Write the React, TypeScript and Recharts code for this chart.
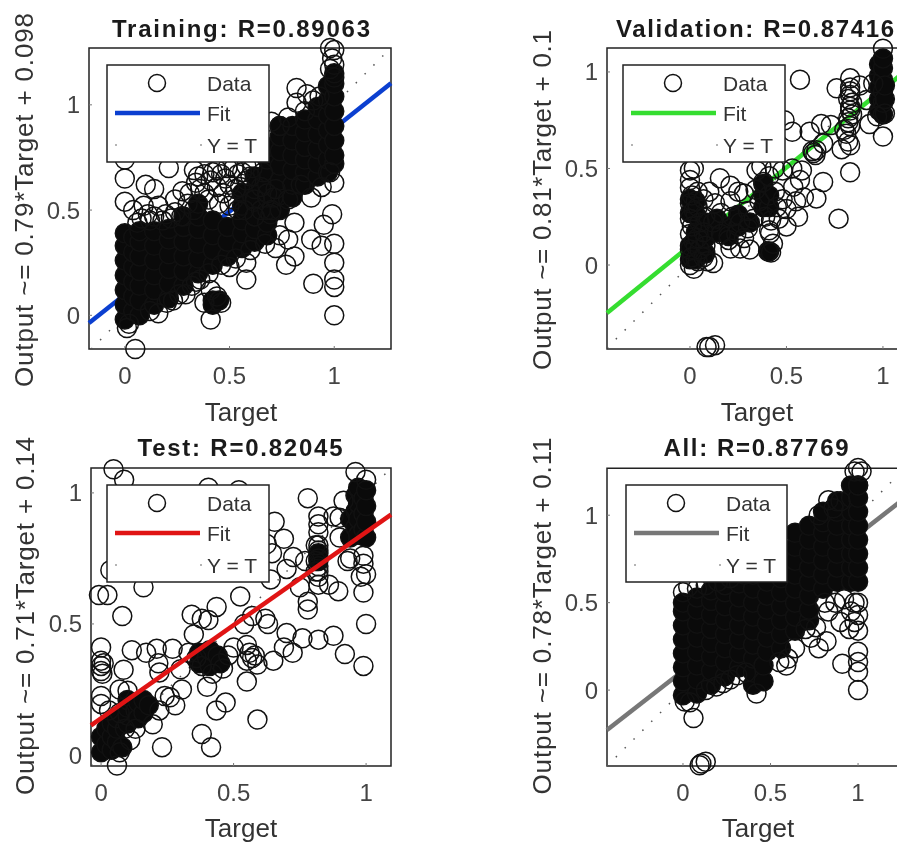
import { ReferenceArea, Scatter, ScatterChart, XAxis, YAxis } from 'recharts'

type Pt = [number, number]
type Col = [number, number[]]

const ticks = [0, 0.5, 1]

// fit lines, from the equations in the y labels
const trainFit: Pt[] = [[-0.171, -0.037], [1.271, 1.102]]
const valFit: Pt[] = [[-0.43, -0.248], [1.135, 1.019]]
const testFit: Pt[] = [[-0.038, 0.113], [1.094, 0.917]]
const allFit: Pt[] = [[-0.434, -0.228], [1.291, 1.117]]

// columns where the circles overlap into solid black: [target, outputs]
const trainCore: Col[] = [
  [0, [-0.02, 0.05, 0.12, 0.19, 0.26, 0.33, 0.39]],
  [0.04, [0.02, 0.09, 0.16, 0.23, 0.3, 0.37]],
  [0.07, [0, 0.07, 0.14, 0.21, 0.28, 0.35, 0.4]],
  [0.14, [0.05, 0.12, 0.19, 0.26, 0.33, 0.4]],
  [0.21, [0.08, 0.15, 0.22, 0.29, 0.36, 0.41]],
  [0.28, [0.14, 0.21, 0.28, 0.35, 0.42, 0.47]],
  [0.35, [0.2, 0.27, 0.34, 0.41, 0.47, 0.53]],
  [0.42, [0.24, 0.31, 0.38, 0.45, 0.07, 0.05]],
  [0.45, [0.07]],
  [0.49, [0.28, 0.35, 0.42]],
  [0.56, [0.32, 0.39, 0.45, 0.52, 0.58]],
  [0.62, [0.35, 0.41, 0.47, 0.54, 0.6, 0.66]],
  [0.68, [0.38, 0.44, 0.5, 0.56, 0.62, 0.68, 0.74, 0.8]],
  [0.74, [0.5, 0.57, 0.64, 0.71, 0.78, 0.85, 0.9]],
  [0.8, [0.56, 0.62, 0.69, 0.76, 0.83, 0.9]],
  [0.86, [0.62, 0.68, 0.74, 0.8, 0.87, 0.93]],
  [0.92, [0.66, 0.72, 0.79, 0.86, 0.93, 0.99]],
  [0.97, [0.68, 0.74, 0.81, 0.88, 0.95, 1.02, 1.09]],
  [1, [0.72, 0.76, 0.83, 0.9, 0.97, 1.04, 1.1, 1.15]],
]

const trainOpen: Pt[] = [
  [0.05, -0.16], [0.01, -0.06], [0.02, -0.04], [0, 0.65], [0, 0.54], [0, 0.74], [0.1, 0.62], [0.14, 0.6], [0.04, 0.5],
  [0.09, 0.52], [0.21, 0.7], [0.24, 0.55], [0.275, 0.59], [0.195, 0.48], [0.14, 0.47], [0.33, 0.69], [0.38, 0.67],
  [0.44, 0.69], [0.52, 0.7], [0.58, 0.71], [0.36, 0.6], [0.44, 0.61], [0.55, 0.61], [0.65, 0.61], [0.71, 0.56],
  [0.695, 0.48], [0.65, 0.5], [0.81, 0.44], [0.74, 0.38], [0.78, 0.36], [0.72, 0.32], [0.81, 0.28], [0.77, 0.24],
  [0.58, 0.25], [0.58, 0.17], [0.5, 0.23], [0.36, 0.17], [0.41, 0.12], [0.41, -0.02], [0.89, 0.36], [0.94, 0.33],
  [0.95, 0.43], [0.99, 0.48], [1, 0.34], [1, 0.25], [1, 0.17], [0.9, 0.15], [1, 0.135], [1, 0], [0.89, 0.56],
  [0.94, 0.61], [1, 0.63], [0.98, 0.68], [0.82, 1.08], [0.87, 1.05], [0.9, 1.02], [0.82, 1.01], [0.93, 1.04],
  [0.98, 1.27], [1, 1.26], [0.98, 1.17], [1, 1.13], [0.99, 1.22], [1, 1.19], [0.38, 0.06], [0.46, 0.06], [0.44, 0.09],
  [0.4, 0.55], [0.47, 0.58], [0.52, 0.55], [0.57, 0.5], [0.62, 0.55], [0.68, 0.58], [0.6, 0.66], [0.66, 0.68],
  [0.72, 0.6], [0.78, 0.55], [0.84, 0.62], [0.7, 0.5], [0.62, 0.47], [0.3, 0.53], [0.34, 0.63], [0.48, 0.65],
  [0.54, 0.67], [0.74, 0.9], [0.78, 0.94], [0.86, 0.97], [0.7, 0.92], [0.2, 0.06], [0.12, 0.02], [0.26, 0.1],
  [0.32, 0.14], [0.08, 0.46], [0.18, 0.45], [0.27, 0.47],
  [0.35, 0.66], [0.41, 0.64], [0.46, 0.67], [0.5, 0.62], [0.53, 0.6], [0.58, 0.64], [0.61, 0.7], [0.38, 0.58],
  [0.45, 0.53], [0.5, 0.52], [0.54, 0.5], [0.42, 0.68], [0.49, 0.7], [0.56, 0.68], [0.31, 0.58], [0.33, 0.5],
  [0.24, 0.49], [0.06, 0.44], [0.12, 0.45], [0.22, 0.46], [0.16, 0.52], [0.11, 0.48], [0.16, 0.01], [0.23, 0.07],
  [0.29, 0.1], [0.34, 0.16], [0.4, 0.2], [0.46, 0.24], [0.53, 0.27], [0.6, 0.31], [0.67, 0.34],
]

const valCore: Col[] = [
  [0.98, [0.8, 0.86, 0.92, 0.98, 1.04]],
  [1, [0.78, 0.84, 0.9, 0.96, 1.02, 1.07]],
  [1.01, [0.86, 0.93]],
  [0, [0.03, 0.1, 0.27, 0.34]],
  [0.03, [0.03, 0.1, 0.17, 0.26, 0.33]],
  [0.08, [0.06, 0.14, 0.22]],
  [0.14, [0.17, 0.24]],
  [0.2, [0.2, 0.15]],
  [0.25, [0.2, 0.26]],
  [0.31, [0.22]],
  [0.38, [0.3, 0.36, 0.42]],
  [0.41, [0.07, 0.3, 0.36]],
]

const valOpen: Pt[] = [
  [0.13, -0.415], [0.1, -0.425], [0.086, -0.425], [0.57, 0.96], [0.83, 0.967], [0.76, 0.915], [0.88, 0.93], [1, 1.12],
  [0.95, 0.94], [0.915, 0.855], [0.93, 0.73], [1, 0.665], [1.01, 0.785], [0.97, 0.77], [0.83, 0.92], [0.83, 0.88],
  [0.84, 0.84], [0.83, 0.8], [0.82, 0.76], [0.83, 0.72], [0.81, 0.68], [0.82, 0.64], [0.786, 0.6], [0.83, 0.62],
  [0.83, 0.9], [0.82, 0.86], [0.83, 0.82], [0.84, 0.78], [0.82, 0.74], [0.8, 0.7],
  [0.83, 0.48], [0.77, 0.24], [0.68, 0.73], [0.73, 0.725], [0.62, 0.69], [0.53, 0.69], [0.49, 0.75], [0.69, 0.63],
  [0.64, 0.58], [0.655, 0.595], [0.65, 0.57], [0.635, 0.59], [0.58, 0.49], [0.69, 0.43], [0.655, 0.345], [0.56, 0.25],
  [0.5, 0.2], [0.59, 0.35], [0.535, 0.405], [0.48, 0.49], [0.345, 0.49], [0.155, 0.45], [0.415, 0.165], [0.405, 0.07],
  [0.42, 0.065], [0.31, 0.08], [0.26, 0.085], [0.21, 0.085], [0.12, 0.01], [0.43, 0.11], [0, 0.49], [0.02, 0.5],
  [0, 0.44], [0, 0.4], [0.01, 0.36], [0, 0.32], [0.02, 0.28], [0, 0.24], [0.01, 0.2], [0, 0.16], [0.02, 0.12], [0, 0.08],
  [0.01, 0.04], [0, 0], [0.02, -0.02], [0.04, 0.02], [0.07, 0.04], [0.09, 0.02], [0.05, 0.08], [0.08, 0.1], [0.04, 0.14],
  [0.07, 0.17], [0.05, 0.22], [0.08, 0.25], [0.04, 0.3], [0.07, 0.34], [0.04, 0.38], [0.1, 0.38], [0.13, 0.32],
  [0.16, 0.27], [0.12, 0.22], [0.16, 0.16], [0.2, 0.13], [0.24, 0.16], [0.28, 0.14], [0.22, 0.25], [0.26, 0.22],
  [0.3, 0.19], [0.21, 0.33], [0.25, 0.38], [0.21, 0.41], [0.28, 0.37], [0.3, 0.28], [0.33, 0.24], [0.36, 0.33],
  [0.34, 0.39], [0.38, 0.43], [0.41, 0.46], [0.44, 0.38], [0.45, 0.3], [0.42, 0.23], [0.39, 0.25], [0.48, 0.34],
  [0.5, 0.29], [0.55, 0.33], [0.46, 0.24], [0.41, 0.18], [0.53, 0.5], [0.57, 0.44], [0.37, 0.51], [0.44, 0.5],
]

const testCore: Col[] = [
  [0.94, [0.83, 0.9]],
  [0.96, [0.87, 0.93, 0.99]],
  [0.97, [0.84, 0.9, 0.96, 1.02]],
  [0.99, [0.86, 0.92, 0.98]],
  [1, [0.83, 0.89, 0.95, 1.01]],
  [0, [0.01, 0.07]],
  [0.02, [0.04, 0.1]],
  [0.04, [0.02, 0.07, 0.12]],
  [0.06, [0.05, 0.1, 0.14]],
  [0.08, [0.03]],
  [0.1, [0.12, 0.15, 0.18, 0.21]],
  [0.13, [0.17]],
  [0.14, [0.14, 0.2]],
  [0.16, [0.16, 0.21]],
  [0.18, [0.19]],
  [0.37, [0.35, 0.39]],
  [0.4, [0.37]],
  [0.41, [0.34, 0.4]],
  [0.44, [0.38]],
  [0.45, [0.35]],
  [0.82, [0.74, 0.77]],
]

const testOpen: Pt[] = [
  [0.047, 1.09], [0.087, 1.05], [0.405, 1.02], [0.52, 1.01], [0.78, 0.98], [0.915, 0.97], [0.96, 1.08], [1, 1.05],
  [0.655, 0.89], [0.69, 0.825], [0.625, 0.805], [0.645, 0.77], [0.64, 0.67], [0.82, 0.91], [0.82, 0.88], [0.82, 0.85],
  [0.82, 0.8], [0.82, 0.78], [0.82, 0.75], [0.82, 0.72], [0.82, 0.7], [0.82, 0.68], [0.82, 0.65], [0.877, 0.91],
  [0.9, 0.905], [0.9, 0.83], [0.725, 0.755], [0.7, 0.71], [0.75, 0.64], [0.77, 0.74], [0.78, 0.585], [0.78, 0.555],
  [0.86, 0.65], [0.895, 0.625], [0.93, 0.74], [0.94, 0.75], [0.99, 0.76], [0.99, 0.73], [0.98, 0.68], [1, 0.69],
  [0.99, 0.62], [1, 0.5], [0.99, 0.34], [0.92, 0.385], [0.877, 0.455], [0.82, 0.44], [0.76, 0.445], [0.7, 0.465],
  [0.69, 0.41], [0.723, 0.39], [0.65, 0.36], [0.525, 0.605], [0.62, 0.52], [0.63, 0.5], [0.57, 0.53], [0.54, 0.5],
  [0.436, 0.565], [0.405, 0.515], [0.38, 0.52], [0.342, 0.535], [0.35, 0.46], [0.55, 0.42], [0.5, 0.41], [0.56, 0.39],
  [0.57, 0.37], [0.55, 0.36], [0.58, 0.38], [0.59, 0.345], [0.55, 0.28], [0.4, 0.26], [0.47, 0.2], [0.435, 0.17],
  [0.59, 0.135], [0.38, 0.08], [0.415, 0.03], [0.23, 0.03], [0.195, 0.117], [0.116, 0.4], [0.17, 0.39], [0.21, 0.405],
  [0.27, 0.405], [0.216, 0.35], [0.22, 0.315], [0.3, 0.327], [0.33, 0.39], [0.305, 0.25], [0.28, 0.19], [0.24, 0.225],
  [0.085, 0.325], [0, 0.41], [0, 0.36], [0, 0.34], [0, 0.32], [0.01, 0.35], [0.005, 0.31], [-0.008, 0.61], [0.024, 0.61],
  [0.08, 0.53], [0.16, 0.64], [0.035, 0.705], [0, 0.225], [0, 0.195], [0.07, 0.25], [0.1, 0.245], [0.06, -0.04],
  [0.07, 0.01], [0.11, 0.057], [0.81, 0.8], [0.81, 0.74], [0.81, 0.7], [0.38, 0.34], [0.46, 0.33], [0.42, 0.31],
  [0.36, 0.37], [0.48, 0.38], [0.26, 0.22], [0.22, 0.17], [0.09, 0.1], [0.13, 0.1], [0.03, 0.17], [0.07, 0.16],
]

const allCore: Col[] = [
  [0, [-0.03, 0.05, 0.13, 0.21, 0.29, 0.37, 0.45, 0.5]],
  [0.08, [-0.02, 0.06, 0.14, 0.22, 0.3, 0.38, 0.46, 0.53]],
  [0.16, [0.03, 0.11, 0.19, 0.27, 0.35, 0.43, 0.51, 0.57]],
  [0.24, [0.08, 0.16, 0.24, 0.32, 0.4, 0.48, 0.56, 0.6]],
  [0.32, [0.13, 0.21, 0.29, 0.37, 0.45, 0.53, 0.61]],
  [0.4, [0.03, 0.1, 0.18, 0.26, 0.34, 0.42, 0.5, 0.58, 0.66]],
  [0.46, [0.05, 0.14]],
  [0.48, [0.22, 0.3, 0.38, 0.46, 0.54, 0.62, 0.7]],
  [0.56, [0.24, 0.32, 0.4, 0.48, 0.56, 0.64, 0.72, 0.76]],
  [0.64, [0.34, 0.42, 0.5, 0.58, 0.66, 0.74, 0.82, 0.9]],
  [0.72, [0.4, 0.46, 0.54, 0.62, 0.7, 0.78, 0.86, 0.94]],
  [0.8, [0.58, 0.66, 0.74, 0.82, 0.9, 0.96, 1.02]],
  [0.88, [0.62, 0.7, 0.78, 0.86, 0.94, 1.02, 1.08]],
  [0.96, [0.62, 0.7, 0.78, 0.86, 0.94, 1.02, 1.1, 1.17]],
  [1, [0.62, 0.7, 0.78, 0.86, 0.94, 1.02, 1.1, 1.17]],
]

const allOpen: Pt[] = [
  [1, 0], [0.91, 0.15], [1, 0.16], [1, 0.105], [1, 0.22], [1, 0.34], [1, 0.5], [0.95, 0.35], [0.9, 0.39], [0.83, 0.45],
  [0.775, 0.24], [0.82, 0.28], [0.73, 0.3], [0.59, 0.14], [0.6, 0.18], [0.42, -0.02], [0.23, 0.04], [0.31, 0.085],
  [0.06, -0.16], [0.13, -0.41], [0.105, -0.42], [0.095, -0.43], [0.01, -0.065], [0.04, -0.07], [1, 1.27], [0.98, 1.25],
  [1.02, 1.25], [1, 1.17], [0.83, 1.085], [0.775, 1], [0.86, 1.04], [0.9, 1.08], [0.98, 0.5], [0.96, 0.45], [1, 0.43],
  [0.98, 0.39], [0.87, 0.5], [0.92, 0.52], [0.81, 0.5], [0.76, 0.36], [0.7, 0.35], [0.64, 0.24], [0.19, 0.02], [0.13, 0],
  [0.27, 0.06], [0.36, 0.1], [0.55, 0.16], [0, 0.56], [0.03, 0.59], [0.08, 0.58], [0.13, 0.6], [0.2, 0.62], [0.27, 0.64],
  [0.35, 0.66],
]

function expand(cols: Col[]): { x: number; y: number }[] {
  return cols.flatMap(([x, ys]) => ys.map((y) => ({ x, y })))
}

function toPoints(pts: Pt[]) {
  return pts.map(([x, y]) => ({ x, y }))
}

function OpenMark({ cx, cy }: { cx?: number; cy?: number }) {
  return <circle cx={cx} cy={cy} r={9.5} fill="none" stroke="#111" strokeWidth={1.5} />
}

function CoreMark({ cx, cy }: { cx?: number; cy?: number }) {
  return <circle cx={cx} cy={cy} r={9.5} fill="#0a0a0a" stroke="#111" strokeWidth={1.5} />
}

function NoMark() {
  return <g />
}

interface PanelProps {
  boxX: number
  boxY: number
  boxW: number
  boxH: number
  xDomain: [number, number]
  yDomain: [number, number]
  title: string
  titleX: number
  titleLen: number
  titleY: number
  yLabel: string
  yLabelX: number
  yLabelMid: number
  yLabelLen: number
  xLabelX: number
  xLabelY: number
  fit: Pt[]
  fitColor: string
  fitOnTop?: boolean
  core: Col[]
  open: Pt[]
  legendX: number
  legendY: number
  legendW: number
}

const LEFT = 90
const TOP = 48

function Panel(p: PanelProps) {
  const width = LEFT + p.boxW + 20
  const height = TOP + p.boxH + 90
  const chartX = p.boxX - LEFT
  const chartY = p.boxY - TOP
  const lo = Math.max(p.xDomain[0], p.yDomain[0])
  const hi = Math.min(p.xDomain[1], p.yDomain[1])
  const identity = [{ x: lo, y: lo }, { x: hi, y: hi }]
  const fitLine = (
    <Scatter
      data={toPoints(p.fit)}
      line={{ stroke: p.fitColor, strokeWidth: 4.5 }}
      shape={NoMark}
      isAnimationActive={false}
    />
  )

  return (
    <div style={{ position: 'absolute', left: chartX, top: chartY, width, height }}>
      <ScatterChart width={width} height={height} margin={{ top: TOP, right: 20, bottom: 0, left: 0 }}>
        <XAxis
          type="number"
          dataKey="x"
          domain={p.xDomain}
          ticks={ticks}
          height={90}
          interval={0}
          tickSize={-3}
          tickMargin={21}
          axisLine={false}
          tick={{ fill: '#444', fontSize: 24, fontFamily: 'Liberation Sans' }}
          tickLine={{ stroke: '#777' }}
        />
        <YAxis
          type="number"
          dataKey="y"
          domain={p.yDomain}
          ticks={ticks}
          width={LEFT}
          interval={0}
          tickSize={-3}
          tickMargin={12}
          axisLine={false}
          tick={{ fill: '#444', fontSize: 24, fontFamily: 'Liberation Sans' }}
          tickLine={{ stroke: '#777' }}
        />
        <Scatter
          data={identity}
          line={{ stroke: '#555', strokeWidth: 1.5, strokeDasharray: '1.5 11' }}
          shape={NoMark}
          isAnimationActive={false}
        />
        {!p.fitOnTop && fitLine}
        <Scatter data={expand(p.core)} shape={CoreMark} isAnimationActive={false} />
        <Scatter data={toPoints(p.open)} shape={OpenMark} isAnimationActive={false} />
        {p.fitOnTop && fitLine}
        <ReferenceArea
          x1={p.xDomain[0]}
          x2={p.xDomain[1]}
          y1={p.yDomain[0]}
          y2={p.yDomain[1]}
          fill="none"
          fillOpacity={0}
          stroke="#222"
          strokeWidth={1.5}
          ifOverflow="visible"
        />
        <text
          x={p.titleX - chartX}
          y={p.titleY - chartY}
          textAnchor="middle"
          dominantBaseline="central"
          textLength={p.titleLen}
          fill="#1a1a1a"
          fontFamily="Liberation Sans"
          fontWeight="bold"
          fontSize={24}
        >
          {p.title}
        </text>
        <text
          x={p.xLabelX - chartX}
          y={p.xLabelY - chartY}
          textAnchor="middle"
          dominantBaseline="central"
          fill="#333"
          fontFamily="Liberation Sans"
          fontSize={26}
        >
          Target
        </text>
        <text
          transform={`translate(${p.yLabelX - chartX} ${p.yLabelMid - chartY}) rotate(-90)`}
          textAnchor="middle"
          dominantBaseline="central"
          textLength={p.yLabelLen}
          fill="#333"
          fontFamily="Liberation Sans"
          fontSize={26}
        >
          {p.yLabel}
        </text>
      </ScatterChart>
      <svg
        width={p.legendW}
        height={97}
        style={{ position: 'absolute', left: p.legendX - chartX, top: p.legendY - chartY, overflow: 'visible' }}
        fontFamily="Liberation Sans"
        fontSize={21}
        fill="#333"
      >
        <rect x={0} y={0} width={p.legendW} height={97} fill="#fff" stroke="#222" strokeWidth={1.5} />
        <circle cx={50} cy={18} r={8.5} fill="none" stroke="#111" strokeWidth={1.5} />
        <line x1={8} x2={93} y1={48} y2={48} stroke={p.fitColor} strokeWidth={4.5} />
        <circle cx={9} cy={80} r={0.8} fill="#555" />
        <circle cx={94} cy={80} r={0.8} fill="#555" />
        <text x={100} y={18} dominantBaseline="central">Data</text>
        <text x={100} y={48} dominantBaseline="central">Fit</text>
        <text x={100} y={80} dominantBaseline="central">Y = T</text>
      </svg>
    </div>
  )
}

export default function App() {
  return (
    <div
      style={{
        position: 'absolute',
        left: 0,
        top: 0,
        width: 897,
        height: 843,
        overflow: 'hidden',
        background: '#fff',
        filter: 'blur(0.5px)',
      }}
    >
      <Panel
        boxX={89} boxY={48} boxW={302} boxH={301}
        xDomain={[-0.171, 1.271]} yDomain={[-0.16, 1.27]}
        title="Training: R=0.89063" titleX={241} titleY={28} titleLen={258}
        yLabel="Output ~= 0.79*Target + 0.098" yLabelX={24} yLabelMid={200} yLabelLen={374}
        xLabelX={241} xLabelY={412}
        fit={trainFit} fitColor="#0b3fd0" core={trainCore} open={trainOpen}
        legendX={107} legendY={65} legendW={162}
      />
      <Panel
        boxX={607} boxY={48} boxW={302} boxH={301}
        xDomain={[-0.43, 1.135]} yDomain={[-0.435, 1.124]}
        title="Validation: R=0.87416" titleX={755} titleY={28} titleLen={278}
        yLabel="Output ~= 0.81*Target + 0.1" yLabelX={542} yLabelMid={200} yLabelLen={340}
        xLabelX={757} xLabelY={412}
        fit={valFit} fitColor="#35dd30" core={valCore} open={valOpen}
        legendX={623} legendY={65} legendW={162}
      />
      <Panel
        boxX={91} boxY={468} boxW={300} boxH={298}
        xDomain={[-0.038, 1.094]} yDomain={[-0.042, 1.095]}
        title="Test: R=0.82045" titleX={240} titleY={447} titleLen={205}
        yLabel="Output ~= 0.71*Target + 0.14" yLabelX={25} yLabelMid={616} yLabelLen={358}
        xLabelX={241} xLabelY={828}
        fit={testFit} fitColor="#e01414" fitOnTop core={testCore} open={testOpen}
        legendX={107} legendY={485} legendW={162}
      />
      <Panel
        boxX={607} boxY={468} boxW={302} boxH={298}
        xDomain={[-0.434, 1.291]} yDomain={[-0.434, 1.269]}
        title="All: R=0.87769" titleX={756} titleY={447} titleLen={185}
        yLabel="Output ~= 0.78*Target + 0.11" yLabelX={542} yLabelMid={616} yLabelLen={357}
        xLabelX={758} xLabelY={828}
        fit={allFit} fitColor="#777" core={allCore} open={allOpen}
        legendX={626} legendY={485} legendW={161}
      />
    </div>
  )
}
